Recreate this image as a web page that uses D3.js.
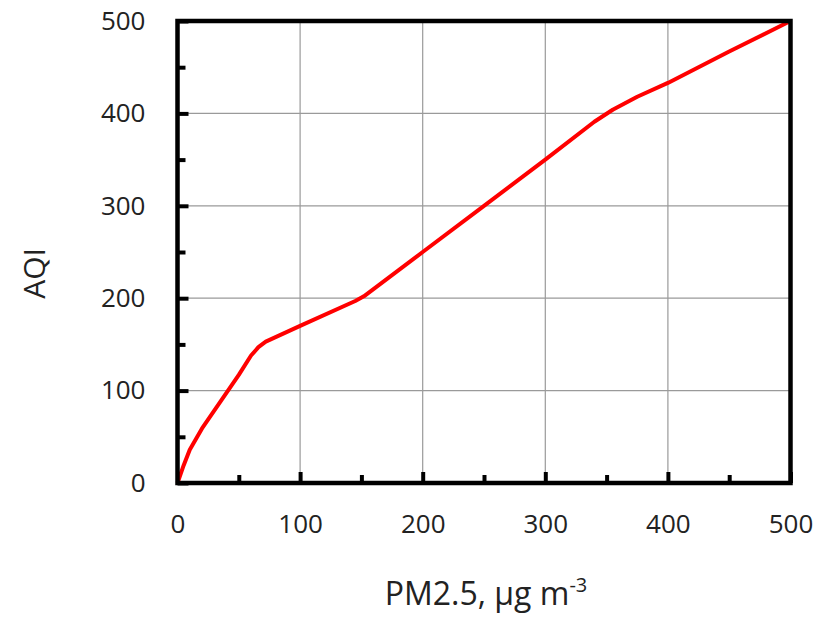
<!DOCTYPE html>
<html>
<head>
<meta charset="utf-8">
<script src="https://cdn.jsdelivr.net/npm/d3@7"></script>
<style>
  body { margin: 0; background: #fff; }
  text { font-family: "Open Sans", sans-serif; fill: #222; }
</style>
</head>
<body>
<script>
// PM2.5 concentration vs AQI
var pm25 = [0, 5, 10, 20, 35, 50, 60, 66, 72, 100, 145, 152, 200, 250, 300, 340, 355, 375, 400, 450, 500];
var aqi  = [0, 19, 36, 59, 88, 117, 138, 147, 153, 170, 197, 202, 250, 300, 350, 391, 404, 418, 433, 467, 500];
var majorTicks = [0, 100, 200, 300, 400, 500];
var minorTicks = [50, 150, 250, 350, 450];

var W = 829, H = 617;
var m = {left: 177.5, right: W - 790.5, top: 21, bottom: H - 483};

var svg = d3.select("body").append("svg")
    .attr("width", W)
    .attr("height", H);

var x = d3.scaleLinear().domain([0, 500]).range([m.left, W - m.right]);
var y = d3.scaleLinear().domain([0, 500]).range([H - m.bottom, m.top]);

// grid lines
svg.append("g").selectAll("line.vg")
    .data(majorTicks.slice(1, -1))
    .enter().append("line")
    .attr("x1", function(d){ return x(d); })
    .attr("x2", function(d){ return x(d); })
    .attr("y1", y(0)).attr("y2", y(500))
    .attr("stroke", "#9a9a9a").attr("stroke-width", 1.2);

svg.append("g").selectAll("line.hg")
    .data(majorTicks.slice(1, -1))
    .enter().append("line")
    .attr("y1", function(d){ return y(d); })
    .attr("y2", function(d){ return y(d); })
    .attr("x1", x(0)).attr("x2", x(500))
    .attr("stroke", "#9a9a9a").attr("stroke-width", 1.2);

// axes: major ticks with labels, minor ticks without
var yAxis = svg.append("g")
    .attr("transform", "translate(" + x(0) + ",0)")
    .call(d3.axisLeft(y).tickValues(majorTicks).tickSize(-11).tickPadding(32));
var yMinor = svg.append("g")
    .attr("transform", "translate(" + x(0) + ",0)")
    .call(d3.axisLeft(y).tickValues(minorTicks).tickSize(-8).tickFormat(""));
var xAxis = svg.append("g")
    .attr("transform", "translate(0," + y(0) + ")")
    .call(d3.axisBottom(x).tickValues(majorTicks).tickSize(-11).tickPadding(32));
var xMinor = svg.append("g")
    .attr("transform", "translate(0," + y(0) + ")")
    .call(d3.axisBottom(x).tickValues(minorTicks).tickSize(-8).tickFormat(""));

[yAxis, yMinor, xAxis, xMinor].forEach(function(g){
  g.select(".domain").remove();
  g.selectAll(".tick line").attr("stroke", "#000").attr("stroke-width", 4);
  g.selectAll(".tick text").style("font-size", "26px").attr("fill", "#222");
});

// the curve
var pts = pm25.map(function(d, i){ return [d, aqi[i]]; });
svg.append("path")
    .datum(pts)
    .attr("fill", "none")
    .attr("stroke", "#ff0000")
    .attr("stroke-width", 4)
    .attr("stroke-linejoin", "round")
    .attr("d", d3.line()
        .x(function(d){ return x(d[0]); })
        .y(function(d){ return y(d[1]); }));

// frame
svg.append("rect")
    .attr("x", x(0)).attr("y", y(500))
    .attr("width", x(500) - x(0))
    .attr("height", y(0) - y(500))
    .attr("fill", "none")
    .attr("stroke", "#000")
    .attr("stroke-width", 4.5);

// axis titles
svg.append("text")
    .attr("transform", "translate(45,273.5) rotate(-90)")
    .attr("text-anchor", "middle")
    .style("font-size", "30px")
    .text("AQI");

var xt = svg.append("text")
    .attr("x", 486).attr("y", 605)
    .attr("text-anchor", "middle")
    .style("font-size", "32px");
xt.append("tspan").text("PM2.5, \u00b5g m");
xt.append("tspan").attr("dy", -13).style("font-size", "20px").text("-3");
</script>
</body>
</html>
